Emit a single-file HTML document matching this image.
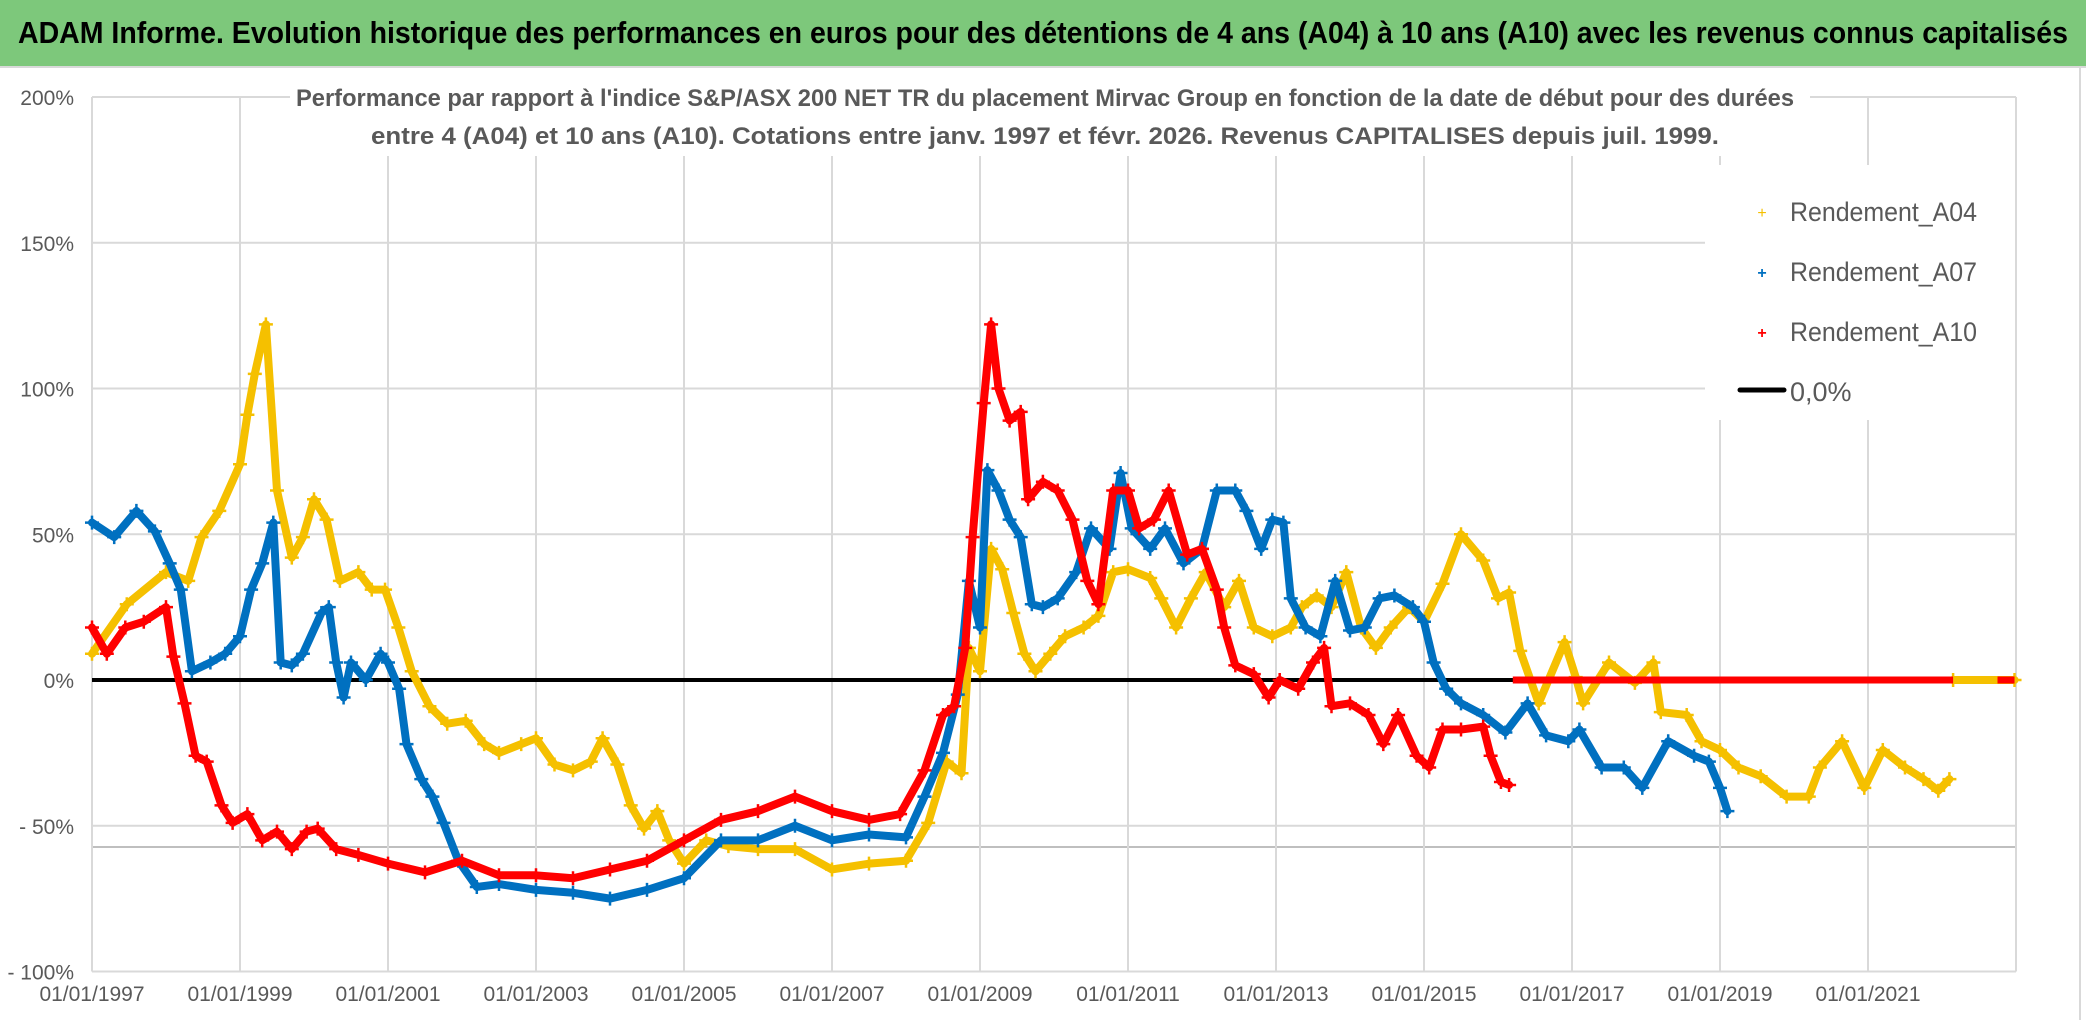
<!DOCTYPE html>
<html><head><meta charset="utf-8"><style>
html,body{margin:0;padding:0;background:#fff;}
svg{display:block;font-family:"Liberation Sans",sans-serif;}
</style></head><body>
<svg id="chart" width="2086" height="1031" viewBox="0 0 2086 1031">
<rect x="0" y="0" width="2086" height="1031" fill="#fff"/>
<rect x="0" y="0" width="2086" height="66" fill="#7dc87b"/>
<line x1="0" y1="67" x2="2086" y2="67" stroke="#d9d9d9" stroke-width="2"/>
<text x="1043" y="43" text-anchor="middle" font-size="31" font-weight="bold" fill="#000" textLength="2050" lengthAdjust="spacingAndGlyphs">ADAM Informe. Evolution historique des performances en euros pour des détentions de 4 ans (A04) à 10 ans (A10) avec les revenus connus capitalisés</text>
<line x1="2080" y1="68" x2="2080" y2="1020" stroke="#d9d9d9" stroke-width="2"/>
<g id="grid"></g>
<g id="yaxis"></g>
<g id="xaxis"></g>
<rect x="290" y="82" width="1520" height="74" fill="#fff"/>
<text x="1045" y="106" text-anchor="middle" font-size="24" font-weight="bold" fill="#595959" textLength="1498" lengthAdjust="spacingAndGlyphs">Performance par rapport à l'indice S&amp;P/ASX 200 NET TR  du placement Mirvac Group  en fonction de la date de début pour des durées</text>
<text x="1045" y="144" text-anchor="middle" font-size="24" font-weight="bold" fill="#595959" textLength="1348" lengthAdjust="spacingAndGlyphs">entre 4 (A04) et 10 ans (A10). Cotations entre janv. 1997 et févr. 2026. Revenus CAPITALISES depuis juil. 1999.</text>
<g id="series"></g>
<rect x="1705" y="165" width="310" height="255" fill="#fff"/>
<g>
 <g><text x="1762" y="218" font-size="16" fill="#f5c000" text-anchor="middle">+</text><text x="1790" y="221" font-size="27" fill="#595959" textLength="187" lengthAdjust="spacingAndGlyphs">Rendement_A04</text></g>
 <g><text x="1762" y="278" font-size="16" fill="#0070c0" text-anchor="middle" font-weight="bold">+</text><text x="1790" y="281" font-size="27" fill="#595959" textLength="187" lengthAdjust="spacingAndGlyphs">Rendement_A07</text></g>
 <g><text x="1762" y="338" font-size="16" fill="#ff0000" text-anchor="middle" font-weight="bold">+</text><text x="1790" y="341" font-size="27" fill="#595959" textLength="187" lengthAdjust="spacingAndGlyphs">Rendement_A10</text></g>
 <g><line x1="1740" y1="390" x2="1784" y2="390" stroke="#000" stroke-width="5" stroke-linecap="round"/><text x="1790" y="401" font-size="27" fill="#595959">0,0%</text></g>
</g>
</svg>
<script>
const yTicks=[200,150,100,50,0,-50,-100];
const yTickLabels=["200%","150%","100%","50%","0%","- 50%","- 100%"];
const xTickYears=[1997,1999,2001,2003,2005,2007,2009,2011,2013,2015,2017,2019,2021];
const xTickLabels=["01/01/1997","01/01/1999","01/01/2001","01/01/2003","01/01/2005","01/01/2007","01/01/2009","01/01/2011","01/01/2013","01/01/2015","01/01/2017","01/01/2019","01/01/2021"];
const datesA04=[1997,1997.47,1998,1998.3,1998.48,1998.72,1999,1999.1,1999.2,1999.35,1999.5,1999.7,1999.85,2000,2000.17,2000.35,2000.6,2000.78,2000.96,2001.14,2001.32,2001.56,2001.8,2002.05,2002.3,2002.5,2002.8,2003,2003.25,2003.5,2003.74,2003.9,2004.1,2004.28,2004.46,2004.64,2004.8,2005,2005.3,2005.6,2006,2006.5,2007,2007.5,2008,2008.3,2008.55,2008.75,2008.85,2009,2009.15,2009.3,2009.45,2009.6,2009.75,2009.95,2010.15,2010.4,2010.6,2010.8,2011,2011.3,2011.45,2011.65,2011.85,2012.05,2012.3,2012.5,2012.7,2012.95,2013.2,2013.35,2013.55,2013.75,2013.95,2014.15,2014.35,2014.55,2014.8,2015,2015.25,2015.5,2015.8,2016,2016.15,2016.3,2016.55,2016.9,2017.05,2017.15,2017.5,2017.85,2018.1,2018.2,2018.55,2018.75,2019,2019.25,2019.55,2019.9,2020.2,2020.35,2020.65,2020.95,2021.2,2021.5,2021.75,2021.95,2022.1];
const valsA04=[9,26,37,34,49,58,74,91,105,122,65,42,49,62,55,34,37,31,31,18,3,-9,-15,-14,-22,-25,-22,-20,-29,-31,-28,-20,-29,-43,-51,-45,-55,-63,-55,-57,-58,-58,-65,-63,-62,-49,-28,-32,11,3,45,38,23,9,3,9,15,18,22,37,38,35,28,18,28,37,25,34,18,15,18,25,29,25,37,18,11,18,25,20,33,50,41,28,30,10,-8,13,1,-8,6,-1,6,-11,-12,-21,-24,-30,-33,-40,-40,-30,-21,-37,-24,-30,-34,-38,-34];
const datesA07=[1997,1997.3,1997.6,1997.85,1998.05,1998.2,1998.35,1998.6,1998.8,1999,1999.15,1999.3,1999.45,1999.55,1999.7,1999.85,2000.1,2000.2,2000.3,2000.4,2000.5,2000.7,2000.9,2001,2001.15,2001.25,2001.45,2001.6,2001.75,2001.95,2002.2,2002.5,2003,2003.5,2004,2004.5,2005,2005.5,2006,2006.5,2007,2007.5,2008,2008.25,2008.5,2008.7,2008.85,2009,2009.1,2009.25,2009.4,2009.55,2009.7,2009.85,2010.05,2010.3,2010.5,2010.75,2010.9,2011.05,2011.3,2011.5,2011.75,2012,2012.2,2012.45,2012.6,2012.8,2012.95,2013.1,2013.2,2013.4,2013.6,2013.8,2014,2014.2,2014.4,2014.6,2014.85,2015,2015.13,2015.3,2015.5,2015.8,2016.1,2016.4,2016.65,2016.95,2017.1,2017.4,2017.7,2017.95,2018.3,2018.65,2018.85,2019,2019.1];
const valsA07=[54,49,58,51,40,31,3,6,9,15,31,40,54,6,5,9,23,25,6,-6,6,0,9,6,-3,-22,-34,-40,-49,-62,-71,-70,-72,-73,-75,-72,-68,-55,-55,-50,-55,-53,-54,-40,-25,-5,34,18,72,65,55,49,26,25,28,37,52,45,71,52,45,52,40,45,65,65,58,45,55,54,28,18,15,34,17,18,28,29,25,20,6,-3,-8,-12,-18,-8,-19,-21,-17,-30,-30,-37,-21,-26,-28,-37,-45];
const datesA10=[1997,1997.2,1997.45,1997.7,1998,1998.1,1998.25,1998.4,1998.55,1998.75,1998.9,1999.1,1999.3,1999.5,1999.7,1999.9,2000.05,2000.3,2000.6,2001,2001.5,2002,2002.5,2003,2003.5,2004,2004.5,2005,2005.5,2006,2006.5,2007,2007.5,2007.92,2008.25,2008.5,2008.65,2008.8,2008.9,2009.05,2009.15,2009.25,2009.4,2009.55,2009.65,2009.85,2010.05,2010.25,2010.45,2010.6,2010.8,2011,2011.15,2011.35,2011.55,2011.8,2012,2012.2,2012.3,2012.45,2012.7,2012.9,2013.05,2013.3,2013.5,2013.65,2013.75,2014,2014.25,2014.45,2014.65,2014.9,2015.07,2015.25,2015.5,2015.8,2015.9,2016.04,2016.15];
const valsA10=[18,9,18,20,25,8,-8,-26,-28,-43,-49,-46,-55,-52,-58,-52,-51,-58,-60,-63,-66,-62,-67,-67,-68,-65,-62,-55,-48,-45,-40,-45,-48,-46,-31,-12,-9,11,49,95,122,100,89,92,62,68,65,55,34,26,65,65,52,55,65,43,45,31,18,5,2,-6,0,-3,6,11,-9,-8,-12,-22,-12,-26,-30,-17,-17,-16,-26,-35,-36];
const zeroA10Dates=[2016.2,2022.98];
const zeroA04Dates=[2022.15,2022.98];

const NS="http://www.w3.org/2000/svg";
const X0=92,X1=2016,Y200=97,Y0=680;
function xs(yr){return X0+(yr-1997)*(X1-X0)/26;}
function ys(p){return Y0-p*(Y0-Y200)/200;}
function mk(tag,attrs,parent){const e=document.createElementNS(NS,tag);for(const k in attrs)e.setAttribute(k,attrs[k]);parent.appendChild(e);return e;}
const grid=document.getElementById('grid'),ya=document.getElementById('yaxis'),xa=document.getElementById('xaxis'),ser=document.getElementById('series');
yTicks.forEach((t,i)=>{
  const l=mk('line',{x1:X0,x2:X1,y1:ys(t),y2:ys(t),stroke:'#d9d9d9','stroke-width':2},grid);
  
  
  const tx=mk('text',{x:74,y:ys(t)+8,'text-anchor':'end','font-size':21,fill:'#595959'},ya);
  tx.textContent=yTickLabels[i];
  
  
});
const extra=mk('line',{x1:X0,x2:X1,y1:847,y2:847,stroke:'#bfbfbf','stroke-width':2},grid);


for(let k=0;k<=13;k++){
  const yr=1997+2*k;
  const l=mk('line',{x1:xs(yr),x2:xs(yr),y1:Y200,y2:ys(-100),stroke:'#d9d9d9','stroke-width':2},grid);
  
  
}
xTickYears.forEach((yr,i)=>{
  const tx=mk('text',{x:xs(yr),y:1001,'text-anchor':'middle','font-size':21,fill:'#595959'},xa);
  tx.textContent=xTickLabels[i];
  
  
});
const zl=mk('line',{x1:X0,x2:X1,y1:ys(0),y2:ys(0),stroke:'#000','stroke-width':4},ser);


function draw(dates,vals,color,name){
  const g=mk('g',{},ser);
  
  
  const pts=dates.map((d,i)=>xs(d)+','+ys(vals[i])).join(' ');
  const pl=mk('polyline',{points:pts,fill:'none',stroke:color,'stroke-width':8,'stroke-linejoin':'round','stroke-linecap':'round'},g);
  
  
  dates.forEach((d,i)=>{
    const x=xs(d),y=ys(vals[i]);
    const p=mk('path',{d:`M${x-7},${y}H${x+7}M${x},${y-7}V${y+7}`,stroke:color,'stroke-width':2.5},g);
    
    
  });
}
draw(datesA04,valsA04,'#f5c000','series-a04');
draw(zeroA04Dates,[0,0],'#f5c000','series-a04-zero');
draw(datesA07,valsA07,'#0070c0','series-a07');
draw(datesA10,valsA10,'#ff0000','series-a10');
const zs=mk('line',{x1:xs(zeroA10Dates[0]),x2:xs(zeroA04Dates[0]),y1:ys(0),y2:ys(0),stroke:'#ff0000','stroke-width':7},ser);


const zs2=mk('line',{x1:xs(2022.75),x2:xs(zeroA10Dates[1]),y1:ys(0),y2:ys(0),stroke:'#ff0000','stroke-width':7},ser);


</script>
</body></html>
